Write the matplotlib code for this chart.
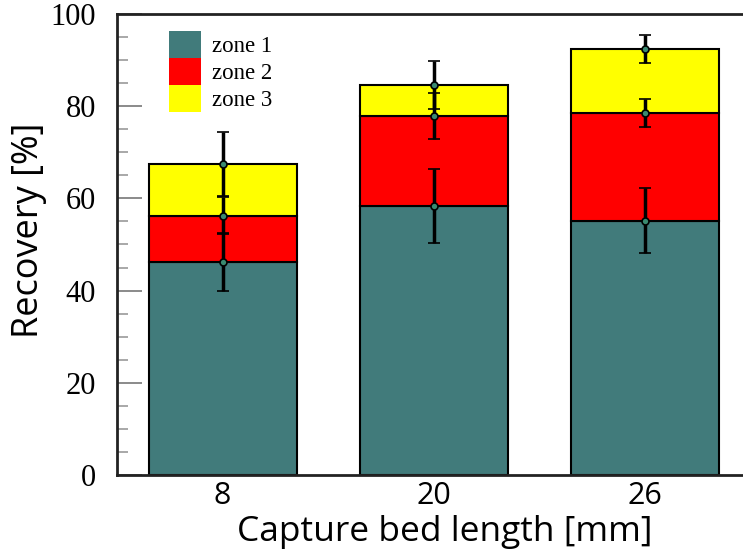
import numpy as np
import matplotlib.pyplot as plt
from matplotlib.patches import Patch

lengths = ['8', '20', '26']
zone1 = [46.2, 58.3, 55.2]
zone2 = [10.0, 19.5, 23.3]
zone3 = [11.3, 6.8, 13.9]
zone1_err = [6.3, 8.0, 7.0]
zone2_err = [4.0, 5.0, 3.0]
zone3_err = [7.0, 5.2, 3.0]

colors = ['#417b7b', '#ff0000', '#ffff00']

fig = plt.figure(figsize=(7.43, 5.56), dpi=100)
ax = fig.add_axes([117 / 743, 81 / 556, (751 - 117) / 743, (475 - 14) / 556])

x = np.arange(len(lengths))
z1 = np.array(zone1)
z2 = np.array(zone2)
z3 = np.array(zone3)

ax.bar(x, z1, width=0.7, color=colors[0], edgecolor='black', linewidth=1.5, zorder=2)
ax.bar(x, z2, width=0.7, bottom=z1, color=colors[1], edgecolor='black', linewidth=1.5, zorder=2)
ax.bar(x, z3, width=0.7, bottom=z1 + z2, color=colors[2], edgecolor='black', linewidth=1.5, zorder=2)

tops = [z1, z1 + z2, z1 + z2 + z3]
errs = [zone1_err, zone2_err, zone3_err]
for t, e in zip(tops, errs):
    ax.errorbar(x, t, yerr=e, fmt='o', color='black', ecolor='black', elinewidth=2.5,
                capsize=4, capthick=2.5, markersize=5, markerfacecolor='#3a8a70',
                markeredgecolor='black', markeredgewidth=1.2, zorder=3)

ax.set_xlim(-0.5, len(lengths) - 0.5)
ax.set_ylim(0, 100)
ax.set_xticks(x)
ax.set_xticklabels(lengths, fontfamily='Open Sans', fontsize=22)
ax.tick_params(axis='x', length=0, pad=4)
ax.set_yticks(np.arange(0, 101, 20))
ax.set_yticks(np.arange(0, 101, 5), minor=True)
ax.tick_params(axis='y', which='major', direction='in', length=18, width=1.2,
               color='#777777', labelsize=22, pad=15)
ax.tick_params(axis='y', which='minor', direction='in', length=8, width=1.2, color='#999999')
for lab in ax.get_yticklabels():
    lab.set_fontfamily('Liberation Serif')

for s in ax.spines.values():
    s.set_linewidth(2)
    s.set_color('#222222')

ax.set_xlabel('Capture bed length [mm]', fontfamily='Open Sans', fontsize=25.5)
ax.xaxis.set_label_coords(0.517, -0.086)
ax.set_ylabel('Recovery [%]', fontfamily='Open Sans', fontsize=26)
ax.yaxis.set_label_coords(-0.11, 0.53)

handles = [Patch(facecolor=c, edgecolor='none') for c in colors]
ax.legend(handles, ['zone 1', 'zone 2', 'zone 3'], loc='upper left',
          bbox_to_anchor=(0.082, 0.963), frameon=False, borderpad=0, borderaxespad=0,
          handlelength=1.4, handleheight=1.44, labelspacing=0.0, handletextpad=0.48,
          prop={'family': 'Liberation Serif', 'size': 16.5})

fig.savefig('out.png', dpi=100)
